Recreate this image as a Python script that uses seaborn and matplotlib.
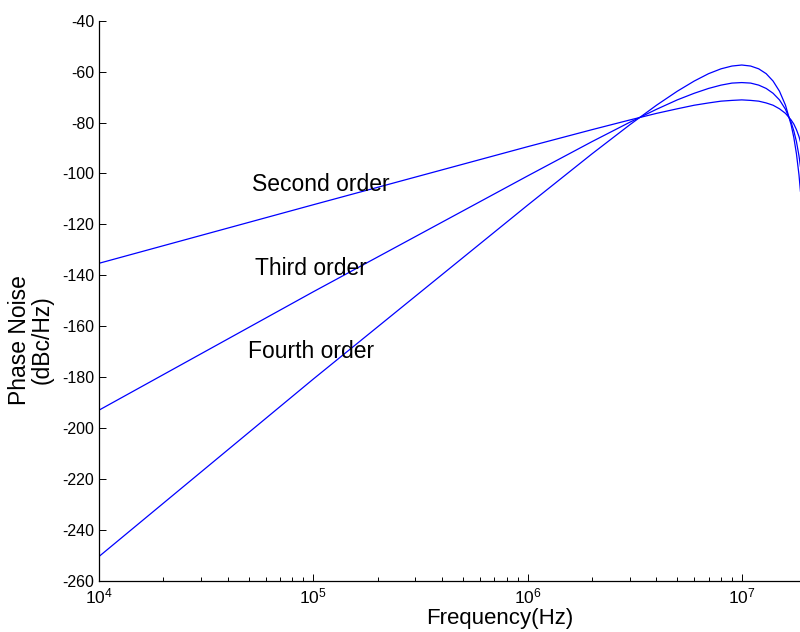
import numpy as np
import pandas as pd
import seaborn as sns
import matplotlib.pyplot as plt

# frequency points (Hz)
freq = [1e4, 1e5, 1e6, 2e6, 3e6, 4e6, 5e6, 6e6, 7e6, 8e6, 9e6, 1e7,
        1.1e7, 1.2e7, 1.3e7, 1.4e7, 1.5e7, 1.6e7, 1.7e7, 1.75e7, 1.8e7, 1.85e7, 1.88e7]

# phase noise (dBc/Hz) for each loop order
second = [-135.3, -112.3, -89.5, -82.8, -79.0, -76.4, -74.6, -73.2, -72.3, -71.6, -71.3, -71.1,
          -71.3, -71.6, -72.3, -73.2, -74.6, -76.4, -79.0, -80.6, -82.8, -85.5, -87.7]
third = [-193.0, -146.5, -101.0, -87.5, -79.9, -74.8, -71.1, -68.5, -66.6, -65.3, -64.5, -64.3,
         -64.5, -65.3, -66.6, -68.5, -71.1, -74.8, -79.9, -83.3, -87.5, -93.1, -97.4]
fourth = [-250.5, -180.8, -112.5, -92.3, -80.9, -73.2, -67.7, -63.7, -60.8, -58.9, -57.8, -57.4,
          -57.8, -58.9, -60.8, -63.7, -67.7, -73.2, -80.9, -85.9, -92.3, -100.6, -107.2]

orders = ["Second order", "Third order", "Fourth order"]
label_x = [5.18e4, 5.35e4, 4.96e4]
label_y = [-104.2, -137.2, -170.0]

dt = pd.DataFrame({
    "Frequency": freq * 3,
    "Noise": second + third + fourth,
    "Order": [o for o in orders for _ in freq],
})

sns.set_style("white")
plt.rcParams["font.family"] = ["Liberation Sans", "DejaVu Sans"]
plt.rcParams["mathtext.fontset"] = "custom"
plt.rcParams["mathtext.rm"] = "Liberation Sans"
plt.rcParams["axes.unicode_minus"] = False
plt.rcParams["text.color"] = "black"
plt.rcParams["axes.labelcolor"] = "black"

fig = plt.figure(figsize=(8, 6.32), dpi=100)
ax = fig.add_axes([0.12375, 0.0812, 0.87625, 0.886])

sns.lineplot(data=dt, x="Frequency", y="Noise", hue="Order", palette=["#0000ff"] * 3,
             estimator=None, legend=False, linewidth=0.9, ax=ax)

ax.set_xscale("log")
ax.set_xlim(1e4, 1.87e7)
ax.set_ylim(-260, -40)
ax.set_yticks(np.arange(-260, -39, 20))

for name, x, y in zip(orders, label_x, label_y):
    ax.text(x, y, name, fontsize=16.5, ha="left", va="center", color="black")

ax.set_xlabel("Frequency(Hz)", fontsize=16)
ax.xaxis.set_label_coords(0.571, -0.048)
ax.set_ylabel("Phase Noise\n(dBc/Hz)", fontsize=16.5, va="center", linespacing=0.95)
ax.yaxis.set_label_coords(-0.097, 0.43)

for side in ["top", "right"]:
    ax.spines[side].set_visible(False)
for side in ["left", "bottom"]:
    ax.spines[side].set_color("black")
    ax.spines[side].set_linewidth(0.9)

ax.tick_params(which="both", bottom=True, left=True, top=False, right=False)
ax.tick_params(which="major", direction="in", length=5, width=0.7, labelsize=11.5,
               colors="black", labelcolor="black")
ax.tick_params(which="minor", direction="in", length=3, width=0.7, colors="black")
ax.tick_params(axis="x", which="major", pad=4, labelsize=12.5)

fig.savefig("out.png", dpi=100)
